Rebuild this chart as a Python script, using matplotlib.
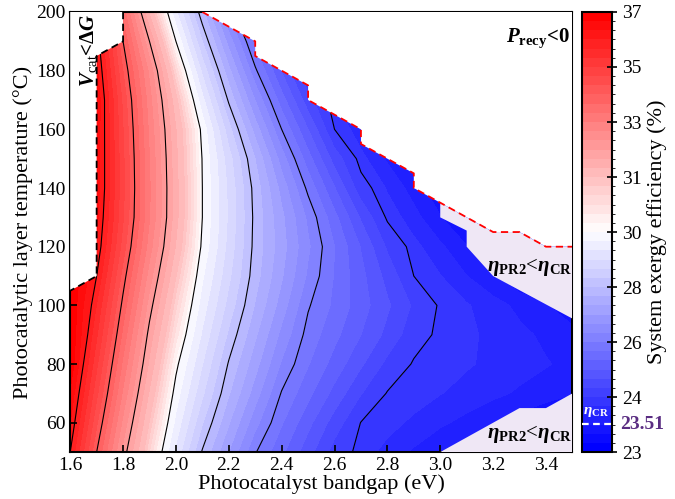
"""Contour map of system exergy efficiency over photocatalyst bandgap and layer temperature."""

import matplotlib

matplotlib.use("Agg")
import matplotlib.pyplot as plt
import numpy as np
from matplotlib.colors import BoundaryNorm


BANDGAP = [1.6, 1.7, 1.8, 1.9, 2.0, 2.1, 2.2, 2.3, 2.4, 2.5,
           2.6, 2.7, 2.8, 2.9, 3.0, 3.1, 3.2, 3.3, 3.4, 3.5]
TEMPERATURE = [50, 60, 70, 80, 90, 100, 110, 120, 130, 140, 150, 160, 170, 180, 190, 200]

# efficiency (%), one row per temperature
EFFICIENCY = [
    [36.00, 34.00, 32.21, 30.66, 29.25, 27.96, 27.00, 26.03, 25.41, 24.80, 24.19, 23.91, 23.78, 23.64, 23.51, 23.38, 23.25, 23.11, 22.98, 22.85],
    [36.33, 34.39, 32.57, 30.97, 29.57, 28.36, 27.36, 26.45, 25.70, 25.10, 24.51, 23.99, 23.89, 23.80, 23.70, 23.61, 23.51, 23.42, 23.32, 23.23],
    [36.62, 34.75, 32.93, 31.28, 29.84, 28.73, 27.70, 26.83, 25.97, 25.43, 24.89, 24.35, 23.98, 23.91, 23.84, 23.78, 23.71, 23.64, 23.58, 23.51],
    [36.93, 35.07, 33.25, 31.59, 30.10, 29.01, 27.96, 27.13, 26.29, 25.69, 25.20, 24.72, 24.24, 23.97, 23.91, 23.85, 23.80, 23.74, 23.68, 23.62],
    [37.21, 35.38, 33.57, 31.86, 30.43, 29.28, 28.26, 27.39, 26.57, 25.87, 25.43, 25.00, 24.57, 24.13, 23.94, 23.87, 23.79, 23.71, 23.63, 23.55],
    [37.42, 35.65, 33.88, 32.17, 30.71, 29.51, 28.54, 27.64, 26.84, 26.04, 25.59, 25.15, 24.72, 24.28, 23.96, 23.85, 23.74, 23.62, 23.51, 23.40],
    [37.82, 36.00, 34.18, 32.50, 31.01, 29.72, 28.74, 27.81, 27.04, 26.27, 25.64, 25.10, 24.55, 24.00, 23.84, 23.67, 23.51, 23.35, 23.18, 23.02],
    [38.07, 36.29, 34.50, 32.82, 31.30, 29.92, 28.88, 27.88, 27.14, 26.39, 25.67, 24.98, 24.28, 23.89, 23.70, 23.51, 23.32, 23.13, 22.94, 22.76],
    [38.17, 36.43, 34.70, 33.02, 31.45, 30.00, 28.94, 27.90, 27.08, 26.26, 25.44, 24.62, 23.95, 23.73, 23.51, 23.29, 23.07, 22.86, 22.64, 22.42],
    [38.32, 36.54, 34.75, 33.04, 31.46, 30.00, 28.92, 27.86, 26.88, 25.91, 25.02, 24.13, 23.81, 23.59, 23.37, 23.15, 22.93, 22.71, 22.49, 22.27],
    [38.36, 36.55, 34.73, 33.00, 31.42, 29.98, 28.81, 27.66, 26.51, 25.48, 24.52, 23.89, 23.64, 23.39, 23.14, 22.89, 22.64, 22.39, 22.14, 21.89],
    [38.48, 36.57, 34.67, 32.92, 31.34, 29.89, 28.46, 27.19, 26.00, 25.00, 24.00, 23.72, 23.44, 23.16, 22.88, 22.60, 22.32, 22.04, 21.76, 21.48],
    [38.65, 36.61, 34.57, 32.80, 31.10, 29.44, 27.94, 26.65, 25.49, 24.46, 23.84, 23.54, 23.24, 22.94, 22.64, 22.34, 22.04, 21.74, 21.44, 21.14],
    [38.53, 36.42, 34.32, 32.58, 30.63, 28.91, 27.43, 26.07, 24.97, 23.97, 23.65, 23.33, 23.01, 22.69, 22.37, 22.05, 21.73, 21.41, 21.09, 20.77],
    [38.44, 36.22, 34.00, 32.00, 30.00, 28.33, 26.86, 25.56, 24.44, 23.80, 23.47, 23.14, 22.81, 22.48, 22.15, 21.82, 21.49, 21.16, 20.83, 20.50],
    [38.50, 36.00, 33.52, 31.27, 29.40, 27.76, 26.23, 25.03, 23.97, 23.63, 23.29, 22.95, 22.61, 22.27, 21.93, 21.59, 21.25, 20.91, 20.57, 20.23],
]

LINE_LEVELS = [24, 26, 28, 30, 32, 34, 36]
CBAR_TICKS = [23, 24, 26, 28, 30, 31, 33, 35, 37]
ETA_CR = 23.51

# P_recy < 0 boundary (upper right)
PRECY_X = [2.1, 2.3, 2.3, 2.5, 2.5, 2.7, 2.7, 2.9, 2.9, 3.0, 3.2, 3.3, 3.4, 3.5]
PRECY_T = [200, 190, 185, 175, 170, 160, 155, 145, 140, 135, 125, 125, 120, 120]

# V_cat < dG boundary (upper left)
VCAT_X = [1.8, 1.8, 1.7, 1.7, 1.6]
VCAT_T = [200, 190, 185, 110, 105]

# eta_PR2 < eta_CR regions
UPPER_LAV_X = [3.0, 3.2, 3.3, 3.4, 3.5, 3.5, 3.2, 3.1, 3.1, 3.0]
UPPER_LAV_T = [135, 125, 125, 120, 120, 95.5, 110, 120, 125.5, 130]
LOWER_LAV_X = [3.0, 3.3, 3.4, 3.5, 3.5]
LOWER_LAV_T = [50, 65, 65, 70, 50]

LAVENDER = "#efe7f5"
PURPLE = "#5a2d82"

plt.rcParams["font.family"] = ["Liberation Serif", "DejaVu Serif"]
plt.rcParams["mathtext.fontset"] = "custom"
plt.rcParams["mathtext.rm"] = "Liberation Serif"
plt.rcParams["mathtext.it"] = "Liberation Serif:italic"
plt.rcParams["mathtext.bf"] = "Liberation Serif:bold"
plt.rcParams["mathtext.bfit"] = "Liberation Serif:italic:bold"


def main() -> None:
    x = np.array(BANDGAP)
    t = np.array(TEMPERATURE)
    z = np.clip(np.array(EFFICIENCY), CBAR_TICKS[0], CBAR_TICKS[-1])

    # 6 colour bands per colourbar interval, intervals drawn equal in size
    levels = np.interp(np.linspace(0, 8, 49), np.arange(9), CBAR_TICKS)
    cmap = plt.get_cmap("bwr")
    norm = BoundaryNorm(levels, ncolors=cmap.N)

    fig = plt.figure(figsize=(6.75, 4.99), dpi=100)
    ax = fig.add_axes([0.104, 0.094, 0.744, 0.882])
    cax = fig.add_axes([0.862, 0.094, 0.045, 0.882])

    cf = ax.contourf(x, t, z, levels=levels, cmap=cmap, norm=norm, zorder=1)
    ax.contour(x, t, np.array(EFFICIENCY), levels=LINE_LEVELS, colors="black",
               linewidths=0.8, zorder=2)

    # masked regions
    ax.fill(PRECY_X + [3.5, 2.1], PRECY_T + [200, 200], color="white", lw=0, zorder=3)
    ax.fill(VCAT_X + [1.6], VCAT_T + [200], color="white", lw=0, zorder=3)
    ax.fill(UPPER_LAV_X, UPPER_LAV_T, color=LAVENDER, lw=0, zorder=3)
    ax.fill(LOWER_LAV_X, LOWER_LAV_T, color=LAVENDER, lw=0, zorder=3)
    ax.plot(PRECY_X, PRECY_T, color="red", lw=1.3, ls=(0, (4, 2.5)), zorder=4)
    ax.plot(VCAT_X, VCAT_T, color="black", lw=1.3, ls=(0, (4, 2.5)), zorder=4)

    ax.text(1.668, 187, "$\\mathbfit{V}_{\\mathrm{cat}}$<\u0394$\\mathbfit{G}$",
            rotation=90, ha="center", va="center", fontsize=15, fontweight="bold", zorder=5)
    ax.text(3.37, 191, r"$\mathbfit{P}_{\mathbf{recy}}$<0",
            ha="center", va="center", fontsize=15, fontweight="bold", zorder=5)
    eta_label = r"$\mathbfit{\eta}_{\mathbf{PR2}}$<$\mathbfit{\eta}_{\mathbf{CR}}$"
    ax.text(3.34, 113, eta_label, ha="center", va="center", fontsize=15, zorder=5)
    ax.text(3.34, 56, eta_label, ha="center", va="center", fontsize=15, zorder=5)

    ax.set_xlim(1.6, 3.5)
    ax.set_ylim(50, 200)
    ax.set_xticks(np.arange(1.6, 3.41, 0.2))
    ax.set_yticks(np.arange(60, 201, 20))
    ax.xaxis.set_major_formatter(plt.FormatStrFormatter("%.1f"))
    ax.tick_params(direction="in", length=5, width=1.2, labelsize=14)
    for spine in ax.spines.values():
        spine.set_linewidth(1.5)
    ax.set_xlabel("Photocatalyst bandgap (eV)", fontsize=16, labelpad=0)
    ax.set_ylabel("Photocatalytic layer temperature (\u00b0C)", fontsize=16, labelpad=2)

    cbar = fig.colorbar(cf, cax=cax, spacing="uniform", ticks=CBAR_TICKS)
    cbar.ax.set_yticklabels([str(v) for v in CBAR_TICKS])
    cbar.ax.tick_params(direction="inout", length=7, width=1.2, labelsize=14)
    cbar.outline.set_linewidth(1.5)
    cbar.set_label("System exergy efficiency (%)", fontsize=16)

    trans = cbar.ax.get_yaxis_transform()
    cbar.ax.plot([0, 1.12], [ETA_CR, ETA_CR], color="white", lw=1.6, ls=(0, (3, 2)),
                 transform=trans, clip_on=False, zorder=5)
    cbar.ax.text(0.45, ETA_CR + 0.1, r"$\mathbfit{\eta}_{\mathbf{CR}}$", transform=trans,
                 ha="center", va="bottom", color="white", fontsize=11)
    cbar.ax.text(1.25, ETA_CR, "23.51", transform=trans, ha="left", va="center",
                 color=PURPLE, fontsize=14, fontweight="bold")

    fig.savefig("out.png", dpi=100)


if __name__ == "__main__":
    main()
